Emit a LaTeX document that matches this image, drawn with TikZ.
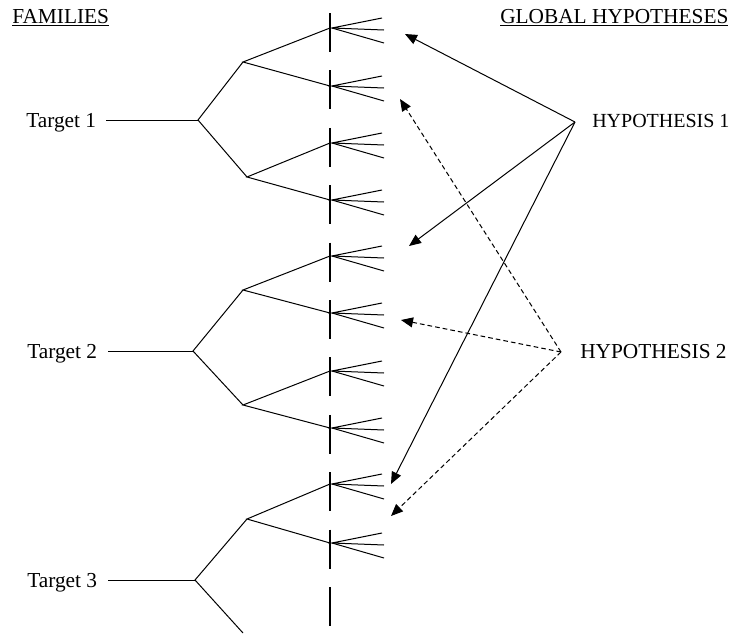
\documentclass[tikz,border=0pt]{standalone}
\usepackage{fontspec}
\setmainfont{Liberation Serif}
\usetikzlibrary{arrows.meta}
\begin{document}
\begin{tikzpicture}[x=0.75pt,y=-0.75pt,
  lbl/.style={font=\fontsize{16}{19}\selectfont, inner sep=0pt, anchor=base west},
  branch/.style={line width=0.75pt},
  leaf/.style={line width=0.75pt},
  harrow/.style={-{Triangle[length=9pt,width=7.5pt]}, line width=0.75pt},
  hdash/.style={harrow, dash pattern=on 3.5pt off 2.3pt},
  divider/.style={line width=0.8pt, dash pattern=on 29.25pt off 13.8pt}]
\useasboundingbox (0,0) rectangle (740,633);

% texts
\node[lbl] (fam) at (12,23) {\underline{FAMILIES}};
\node[lbl] (glob) at (500,23) {\underline{GLOBAL HYPOTHESES}};
\node[lbl] (t1) at (26,127) {Target 1};
\node[lbl] (t2) at (27,358) {Target 2};
\node[lbl] (t3) at (27,587) {Target 3};
\node[lbl, font=\fontsize{15}{18}\selectfont] (hyp1) at (592,127) {HYPOTHESIS 1};
\node[lbl] (hyp2) at (580,358) {HYPOTHESIS 2};

% dashed divider
\coordinate (dtop) at (330,13);
\coordinate (dbot) at (330,633);
\draw[divider] (dtop) -- (dbot);

% tree coordinates
\coordinate (a1) at (106,120);
\coordinate (a2) at (108,351);
\coordinate (a3) at (108,580);
\coordinate (r1) at (198,120);
\coordinate (r2) at (193,351);
\coordinate (r3) at (195,580);
\coordinate (s1a) at (243,62);
\coordinate (s1b) at (247,177);
\coordinate (s2a) at (243,290);
\coordinate (s2b) at (243,405);
\coordinate (s3a) at (247,519);
\coordinate (s3b) at (243,633);

\foreach \i/\y in {1/28,2/86,3/143,4/200,5/256,6/313,7/371,8/428,9/484,10/543}{
  \coordinate (f\i) at (330,\y);
  \coordinate (g\i) at (332,\y);
  \coordinate (la\i) at (382,\y-10);
  \coordinate (lb\i) at (384,\y+2);
  \coordinate (lc\i) at (384,\y+15);
  \draw[leaf] (la\i) -- (g\i) -- (lb\i);
  \draw[leaf] (g\i) -- (lc\i);
}

% branches
\draw[branch] (a1) -- (r1);
\draw[branch] (a2) -- (r2);
\draw[branch] (a3) -- (r3);
\draw[branch] (s1a) -- (r1) -- (s1b);
\draw[branch] (s2a) -- (r2) -- (s2b);
\draw[branch] (s3a) -- (r3) -- (s3b);
\draw[branch] (f1) -- (s1a) -- (f2);
\draw[branch] (f3) -- (s1b) -- (f4);
\draw[branch] (f5) -- (s2a) -- (f6);
\draw[branch] (f7) -- (s2b) -- (f8);
\draw[branch] (f9) -- (s3a) -- (f10);

% hypothesis arrows
\coordinate (h1) at (575,122);
\coordinate (h2) at (561,352);
\coordinate (p1) at (405,34);
\coordinate (p2) at (409,246);
\coordinate (p3) at (391,484);
\coordinate (q1) at (400,99);
\coordinate (q2) at (401,320);
\coordinate (q3) at (391,516);
\draw[harrow] (h1) -- (p1);
\draw[harrow] (h1) -- (p2);
\draw[harrow] (h1) -- (p3);
\draw[hdash] (h2) -- (q1);
\draw[hdash] (h2) -- (q2);
\draw[hdash] (h2) -- (q3);
\end{tikzpicture}
\end{document}
